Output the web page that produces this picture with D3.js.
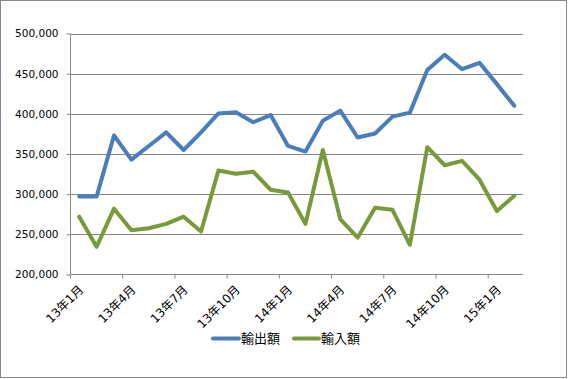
<!DOCTYPE html>
<html><head><meta charset="utf-8">
<script src="https://cdn.jsdelivr.net/npm/d3@7"></script>
<style>body{margin:0;background:#fff}svg{display:block}</style>
</head><body>
<svg id="c" width="568" height="379"></svg>
<script>
const months = ["13年1月","13年2月","13年3月","13年4月","13年5月","13年6月","13年7月","13年8月","13年9月","13年10月","13年11月","13年12月",
"14年1月","14年2月","14年3月","14年4月","14年5月","14年6月","14年7月","14年8月","14年9月","14年10月","14年11月","14年12月","15年1月","15年2月"];
const exports_ = [297000,297000,373000,343000,360000,377000,355000,377000,400500,402000,389500,398500,
360000,353000,391500,404000,370500,375500,396500,401500,454500,473500,455500,463500,437000,410000];
const imports_ = [272000,234500,282000,255000,257500,263000,272000,253500,329500,325500,328000,305500,
302000,263000,355000,269000,246000,283000,280500,237000,358500,336000,341500,318000,279000,298000];
const seriesNames = ["輸出額","輸入額"];
const yTicks = [200000,250000,300000,350000,400000,450000,500000];
const colors = ["#4A7EBB","#789A3B"];

const svg = d3.select("#c");
svg.append("rect").attr("x",0.5).attr("y",0.5).attr("width",566).attr("height",377)
  .attr("fill","#fff").attr("stroke","#868686").attr("stroke-width",1);

const L=70.5, R=523, T=33.5, B=274.5;
const x = d3.scaleBand().domain(months).range([L,R]);
const y = d3.scaleLinear().domain([200000,500000]).range([B,T]);

// gridlines
svg.append("g").selectAll("line").data(yTicks.filter(d=>d>200000)).join("line")
  .attr("x1",L).attr("x2",R).attr("y1",d=>Math.round(y(d))+0.5).attr("y2",d=>Math.round(y(d))+0.5)
  .attr("stroke","#868686").attr("stroke-width",1);

// y axis
const ya = svg.append("g").attr("transform",`translate(${L},0)`)
  .call(d3.axisLeft(y).tickValues(yTicks).tickFormat(d3.format(",")).tickSize(4).tickPadding(8));
ya.select(".domain").attr("stroke","#868686").attr("d",`M0,${B}V${T}`);
ya.selectAll(".tick line").attr("stroke","#868686");
ya.selectAll("text").attr("font-family","DejaVu Sans, sans-serif").attr("font-size","10.5px").attr("fill","#000");

// x axis
const xa = svg.append("g").attr("transform",`translate(0,${B})`);
xa.append("line").attr("x1",L).attr("x2",R).attr("y1",0).attr("y2",0).attr("stroke","#868686");
const tickIdx = months.map((m,i)=>i).filter(i=>i%3===0);
xa.selectAll("line.t").data(tickIdx).join("line").attr("class","t")
  .attr("x1",i=>x(months[i])).attr("x2",i=>x(months[i])).attr("y1",0).attr("y2",4)
  .attr("stroke","#868686");
xa.selectAll("text").data(tickIdx).join("text")
  .attr("transform",i=>`translate(${x(months[i])+x.bandwidth()/2+2},${13}) rotate(-45)`)
  .attr("text-anchor","end").attr("dy","0.35em")
  .attr("font-family","DejaVu Sans, 'Noto Sans CJK JP', sans-serif").attr("font-size","12px").attr("fill","#000")
  .text(i=>months[i]);

// lines
const line = d3.line().x((d,i)=>x(months[i])+x.bandwidth()/2).y(d=>y(d));
[exports_, imports_].forEach((s,k)=>{
  svg.append("path").datum(s).attr("d",line).attr("fill","none")
    .attr("stroke",colors[k]).attr("stroke-width",4).attr("stroke-linejoin","round").attr("stroke-linecap","round");
});

// legend
const lg = [{x1:213,x2:239,tx:241},{x1:294,x2:319,tx:321}];
lg.forEach((p,k)=>{
  svg.append("line").attr("x1",p.x1).attr("x2",p.x2).attr("y1",338.5).attr("y2",338.5)
    .attr("stroke",colors[k]).attr("stroke-width",4).attr("stroke-linecap","round");
  svg.append("text").attr("x",p.tx).attr("y",338.5).attr("dy","0.38em")
    .attr("font-family","'Noto Sans CJK JP', sans-serif").attr("font-size","13px").attr("fill","#000")
    .text(seriesNames[k]);
});
</script>
</body></html>
